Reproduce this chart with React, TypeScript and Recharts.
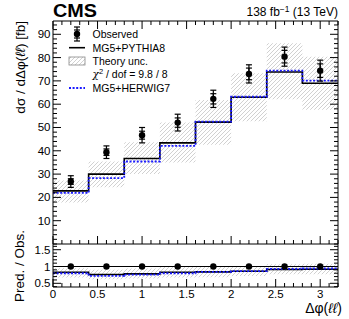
import React from 'react';
import { ComposedChart, Line, Area, Scatter, ErrorBar, XAxis, YAxis, ReferenceLine } from 'recharts';

// ---------- data ----------
const binEdges = [0, 0.4, 0.8, 1.2, 1.6, 2.0, 2.4, 2.8, 3.2];
const binCenters = [0.2, 0.6, 1.0, 1.4, 1.8, 2.2, 2.6, 3.0];
const observed = [26.8, 39.4, 46.7, 52.1, 62.3, 73.0, 80.4, 74.4];
const obsStatErr = [1.2, 1.4, 1.7, 2.0, 2.2, 2.5, 2.7, 2.9];
const obsTotErr = [2.5, 2.7, 3.3, 3.6, 3.7, 3.9, 4.1, 4.5];
const pythia = [22.8, 30.0, 36.7, 43.4, 52.3, 63.0, 73.8, 69.0];
const herwig = [21.9, 28.3, 35.4, 42.1, 52.5, 63.2, 74.4, 70.1];
const theoryLo = [17.8, 24.4, 30.0, 35.0, 42.6, 52.7, 62.1, 57.6];
const theoryHi = [27.3, 35.4, 43.7, 52.1, 61.8, 73.3, 86.2, 80.4];

const ratioObs = [1, 1, 1, 1, 1, 1, 1, 1];
const ratioPythia = [0.83, 0.76, 0.78, 0.83, 0.84, 0.86, 0.91, 0.92];
const ratioHerwig = [0.80, 0.72, 0.76, 0.80, 0.84, 0.86, 0.93, 0.94];
const ratioLo = [0.67, 0.62, 0.64, 0.67, 0.68, 0.72, 0.77, 0.77];
const ratioHi = [0.95, 0.90, 0.94, 1.0, 0.99, 1.0, 1.07, 1.08];

const mainYMajor = [10, 20, 30, 40, 50, 60, 70, 80, 90];
const ratioYMajor = [0.5, 1, 1.5];
const xMajor = [0, 0.5, 1, 1.5, 2, 2.5, 3];

const MAIN_Y_DOMAIN: [number, number] = [0, 95.7];
const RATIO_Y_DOMAIN: [number, number] = [0.39, 1.67];
const X_DOMAIN: [number, number] = [0, 3.2];

// ---------- layout ----------
const W = 349;
const H = 319;
const PL = 53;
const PR = 338;
const MAIN_TOP = 21;
const MAIN_BOTTOM = 244;
const RATIO_BOTTOM = 287;
const FONT = '"Liberation Sans", Arial, Helvetica, sans-serif';
const HATCH = '#bdbdbd';

const mkTicks = (lo: number, hi: number, step: number) => {
  const out: number[] = [];
  for (let v = lo; v <= hi + 1e-9; v += step) out.push(Math.round(v * 1000) / 1000);
  return out;
};
const mainYTicks = mkTicks(0, 94, 2);
const ratioYTicks = mkTicks(0.4, 1.6, 0.1);
const xTicks = mkTicks(0, 3.2, 0.1);
const isIn = (arr: number[], v: number) => arr.some((a) => Math.abs(a - v) < 1e-6);

const stepRows = (vals: number[]) =>
  binEdges.map((x, i) => ({ x, y: vals[Math.min(i, vals.length - 1)] }));
const bandRows = (lo: number[], hi: number[]) =>
  binEdges.map((x, i) => {
    const k = Math.min(i, lo.length - 1);
    return { x, band: [lo[k], hi[k]] };
  });
const pointRows = (vals: number[], stat?: number[], tot?: number[]) =>
  binCenters.map((x, i) => ({ x, y: vals[i], stat: stat ? stat[i] : 0, tot: tot ? tot[i] : 0 }));

const mainPythia = stepRows(pythia);
const mainHerwig = stepRows(herwig);
const mainBand = bandRows(theoryLo, theoryHi);
const mainObs = pointRows(observed, obsStatErr, obsTotErr);
const rPythia = stepRows(ratioPythia);
const rHerwig = stepRows(ratioHerwig);
const rBand = bandRows(ratioLo, ratioHi);
const rObs = pointRows(ratioObs);

// ---------- ticks ----------
const makeYTick = (majors: number[], fmt: (v: number) => string) => (p: any) => {
  const { y, payload } = p;
  const v = payload.value;
  const major = isIn(majors, v);
  const len = major ? 8 : 4;
  return (
    <g>
      <line x1={PL} x2={PL + len} y1={y} y2={y} stroke="#000" strokeWidth={1} />
      <line x1={PR - len} x2={PR} y1={y} y2={y} stroke="#000" strokeWidth={1} />
      {major ? (
        <text x={PL - 2.5} y={y + 4} textAnchor="end" fontFamily={FONT} fontSize={11.5} fill="#000">
          {fmt(v)}
        </text>
      ) : null}
    </g>
  );
};

const makeXTick = (top: number, bottom: number, labels: boolean, topTicks: boolean) => (p: any) => {
  const { x, payload } = p;
  const v = payload.value;
  const major = isIn(xMajor, v);
  const len = major ? 8 : 4;
  return (
    <g>
      <line x1={x} x2={x} y1={bottom} y2={bottom - len} stroke="#000" strokeWidth={1} />
      {topTicks ? <line x1={x} x2={x} y1={top} y2={top + len} stroke="#000" strokeWidth={1} /> : null}
      {labels && major ? (
        <text x={x} y={bottom + 11} textAnchor="middle" fontFamily={FONT} fontSize={11.5} fill="#000">
          {String(v)}
        </text>
      ) : null}
    </g>
  );
};

const Dot = (p: any) => <circle cx={p.cx} cy={p.cy} r={3.2} fill="#000" />;

const Hatch = ({ id }: { id: string }) => (
  <defs>
    <pattern id={id} patternUnits="userSpaceOnUse" width={4} height={4}>
      <path d="M-1,1 l2,-2 M0,4 l4,-4 M3,5 l2,-2" stroke={HATCH} strokeWidth={0.7} />
    </pattern>
  </defs>
);

export default function App() {
  return (
    <div style={{ position: 'absolute', left: 0, top: 0, width: W, height: H, background: '#fff' }}>
      {/* main panel */}
      <div style={{ position: 'absolute', left: 0, top: 0 }}>
        <ComposedChart width={W} height={H} margin={{ top: MAIN_TOP, right: W - PR, bottom: 0, left: 0 }}>
          <Hatch id="hatchMain" />
          <XAxis
            dataKey="x"
            type="number"
            domain={X_DOMAIN}
            ticks={xTicks}
            interval={0}
            height={H - MAIN_BOTTOM}
            tickSize={0}
            tickMargin={0}
            tickLine={false}
            axisLine={{ stroke: '#000', strokeWidth: 1 }}
            tick={makeXTick(MAIN_TOP, MAIN_BOTTOM, false, true)}
            allowDataOverflow
          />
          <YAxis
            type="number"
            domain={MAIN_Y_DOMAIN}
            ticks={mainYTicks}
            interval={0}
            width={PL}
            tickSize={0}
            tickMargin={0}
            tickLine={false}
            axisLine={{ stroke: '#000', strokeWidth: 1 }}
            tick={makeYTick(mainYMajor, (v) => String(v))}
            allowDataOverflow
          />
          <Area
            data={mainBand}
            dataKey="band"
            type="stepAfter"
            stroke="none"
            fill="url(#hatchMain)"
            fillOpacity={1}
            isAnimationActive={false}
            activeDot={false}
            dot={false}
          />
          <Line data={mainPythia} dataKey="y" type="stepAfter" stroke="#000" strokeWidth={1.6} dot={false} activeDot={false} isAnimationActive={false} />
          <Line data={mainHerwig} dataKey="y" type="stepAfter" stroke="#1a1aff" strokeWidth={1.8} strokeDasharray="2 1.6" dot={false} activeDot={false} isAnimationActive={false} />
          <Scatter data={mainObs} dataKey="y" shape={Dot} isAnimationActive={false}>
            <ErrorBar dataKey="tot" direction="y" width={3} stroke="#000" strokeWidth={1.2} isAnimationActive={false} />
            <ErrorBar dataKey="stat" direction="y" width={3} stroke="#000" strokeWidth={1.2} isAnimationActive={false} />
          </Scatter>
          <ReferenceLine y={MAIN_Y_DOMAIN[1]} stroke="#000" strokeWidth={1} />
          <ReferenceLine x={X_DOMAIN[1]} stroke="#000" strokeWidth={1} />
        </ComposedChart>
      </div>

      {/* ratio panel */}
      <div style={{ position: 'absolute', left: 0, top: 0 }}>
        <ComposedChart width={W} height={H} margin={{ top: MAIN_BOTTOM, right: W - PR, bottom: 12, left: 0 }}>
          <Hatch id="hatchRatio" />
          <XAxis
            dataKey="x"
            type="number"
            domain={X_DOMAIN}
            ticks={xTicks}
            interval={0}
            height={H - 12 - RATIO_BOTTOM}
            tickSize={0}
            tickMargin={0}
            tickLine={false}
            axisLine={{ stroke: '#000', strokeWidth: 1 }}
            tick={makeXTick(MAIN_BOTTOM, RATIO_BOTTOM, true, false)}
            allowDataOverflow
          />
          <YAxis
            type="number"
            domain={RATIO_Y_DOMAIN}
            ticks={ratioYTicks}
            interval={0}
            width={PL}
            tickSize={0}
            tickMargin={0}
            tickLine={false}
            axisLine={{ stroke: '#000', strokeWidth: 1 }}
            tick={makeYTick(ratioYMajor, (v) => String(v))}
            allowDataOverflow
          />
          <Area
            data={rBand}
            dataKey="band"
            type="stepAfter"
            stroke="none"
            fill="url(#hatchRatio)"
            fillOpacity={1}
            isAnimationActive={false}
            activeDot={false}
            dot={false}
          />
          <ReferenceLine y={1} stroke="#000" strokeWidth={1} />
          <Line data={rPythia} dataKey="y" type="stepAfter" stroke="#000" strokeWidth={1.6} dot={false} activeDot={false} isAnimationActive={false} />
          <Line data={rHerwig} dataKey="y" type="stepAfter" stroke="#1a1aff" strokeWidth={1.8} strokeDasharray="2 1.6" dot={false} activeDot={false} isAnimationActive={false} />
          <Scatter data={rObs} dataKey="y" shape={Dot} isAnimationActive={false} />
          <ReferenceLine x={X_DOMAIN[1]} stroke="#000" strokeWidth={1} />
        </ComposedChart>
      </div>

      {/* text & legend overlay */}
      <svg width={W} height={H} style={{ position: 'absolute', left: 0, top: 0, pointerEvents: 'none' }}>
        <defs>
          <pattern id="hatchLeg" patternUnits="userSpaceOnUse" width={4} height={4}>
            <path d="M-1,1 l2,-2 M0,4 l4,-4 M3,5 l2,-2" stroke={HATCH} strokeWidth={0.7} />
          </pattern>
        </defs>
        <text x={53} y={17} fontFamily={FONT} fontWeight="bold" fontSize={17.5} textLength={44} lengthAdjust="spacingAndGlyphs" fill="#000">
          CMS
        </text>
        <text x={338} y={15.5} textAnchor="end" fontFamily={FONT} fontSize={12} fill="#000">
          138 fb
          <tspan dy={-4} fontSize={8.5}>−1</tspan>
          <tspan dy={4}> (13 TeV)</tspan>
        </text>

        {/* axis titles */}
        <text
          x={25}
          y={21}
          transform="rotate(-90 25 21)"
          textAnchor="end"
          fontFamily={FONT}
          fontSize={13.5}
          fill="#000"
        >
          dσ / dΔφ(<tspan fontStyle="italic">ℓℓ</tspan>) [fb]
        </text>
        <text
          x={24}
          y={266}
          transform="rotate(-90 24 266)"
          textAnchor="middle"
          fontFamily={FONT}
          fontSize={13.5}
          fill="#000"
        >
          Pred. / Obs.
        </text>
        <text x={342} y={313} textAnchor="end" fontFamily={FONT} fontSize={14} fill="#000">
          Δφ(<tspan fontStyle="italic">ℓℓ</tspan>)
        </text>

        {/* legend */}
        <g>
          <line x1={77} x2={77} y1={27} y2={41} stroke="#000" strokeWidth={1.2} />
          <line x1={74} x2={80} y1={27} y2={27} stroke="#000" strokeWidth={1.2} />
          <line x1={74} x2={80} y1={41} y2={41} stroke="#000" strokeWidth={1.2} />
          <line x1={74} x2={80} y1={30} y2={30} stroke="#000" strokeWidth={1.2} />
          <line x1={74} x2={80} y1={38} y2={38} stroke="#000" strokeWidth={1.2} />
          <circle cx={77} cy={34} r={3.2} fill="#000" />
          <text x={92.5} y={37.8} fontFamily={FONT} fontSize={10.5} fill="#000">Observed</text>

          <line x1={69} x2={85} y1={47.7} y2={47.7} stroke="#000" strokeWidth={1.6} />
          <text x={92.5} y={51.5} fontFamily={FONT} fontSize={10.5} fill="#000">MG5+PYTHIA8</text>

          <rect x={69} y={57} width={16} height={8} fill="url(#hatchLeg)" stroke="#888" strokeWidth={0.8} />
          <text x={92.5} y={64.8} fontFamily={FONT} fontSize={10.5} fill="#000">Theory unc.</text>

          <text x={92.5} y={78} fontFamily={FONT} fontSize={10.5} fill="#000">
            <tspan fontStyle="italic" fontFamily="'DejaVu Serif', serif">χ</tspan>
            <tspan dy={-4} fontSize={7.5}>2</tspan>
            <tspan dy={4}> / dof = 9.8 / 8</tspan>
          </text>

          <line x1={69} x2={85} y1={88} y2={88} stroke="#1a1aff" strokeWidth={1.8} strokeDasharray="2 1.6" />
          <text x={92.5} y={91.8} fontFamily={FONT} fontSize={10.5} fill="#000">MG5+HERWIG7</text>
        </g>
      </svg>
    </div>
  );
}
